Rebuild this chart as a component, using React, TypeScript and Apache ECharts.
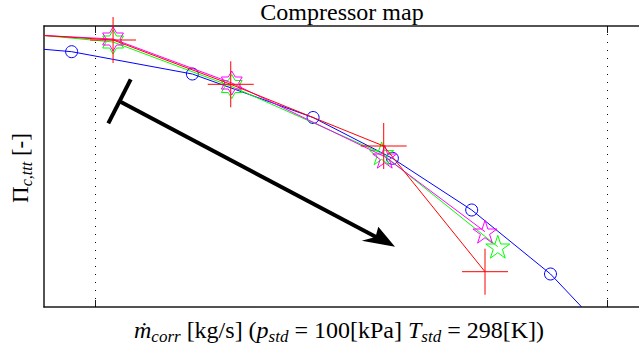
import React, { useEffect, useRef } from "react";
import * as echarts from "echarts";

// Corrected mass flow [kg/s] and total-to-total pressure ratio [-] per series
const refFlow = [0.09, 0.0954, 0.119, 0.1426, 0.1581, 0.1736, 0.189, 0.1951];
const refRatio = [1.5154, 1.5106, 1.466, 1.379, 1.2974, 1.194, 1.066, 1.0];

const measFlow = [0.09, 0.1035, 0.1265, 0.1564, 0.1762];
const measRatio = [1.543, 1.534, 1.4454, 1.322, 1.0706];

const simAFlow = [0.09, 0.1035, 0.1267, 0.1566, 0.1762];
const simARatio = [1.543, 1.536, 1.448, 1.3006, 1.1506];

const simBFlow = [0.09, 0.1035, 0.1267, 0.156, 0.1787];
const simBRatio = [1.543, 1.53, 1.441, 1.3074, 1.1206];

const flowTicks = [0.1, 0.2];
const flowMin = 0.09;
const flowMax = 0.2063;
const ratioMin = 1.0;
const ratioMax = 1.562;

const PLUS = "path://M0,-1L0,1M-1,0L1,0";
const PENTA =
  "path://M0,-1L0.2245,-0.309L0.9511,-0.309L0.3633,0.118L0.5878,0.809L0,0.382L-0.5878,0.809L-0.3633,0.118L-0.9511,-0.309L-0.2245,-0.309Z";
const HEXA =
  "path://M0,-1L0.2887,-0.5L0.866,-0.5L0.577,0L0.866,0.5L0.2887,0.5L0,1L-0.2887,0.5L-0.866,0.5L-0.577,0L-0.866,-0.5L-0.2887,-0.5Z";

const SERIF = "'Liberation Serif', 'DejaVu Serif', serif";

function pts(xs: number[], ys: number[], symbolAt: (i: number) => string) {
  return xs.map((x, i) => ({ value: [x, ys[i]], symbol: symbolAt(i) }));
}

const starAt = (i: number) => (i === 0 ? "none" : i <= 2 ? HEXA : PENTA);

export default function App() {
  const ref = useRef<HTMLDivElement>(null);

  useEffect(() => {
    document.body.style.margin = "0";
    const chart = echarts.init(ref.current!, undefined, { renderer: "svg" });

    const axisLine = { show: true, lineStyle: { color: "#1a1a1a", width: 1.5 } };
    const xAxisBase = {
      type: "value" as const,
      min: flowMin,
      max: flowMax,
      axisLine,
      axisLabel: { show: false },
      splitLine: { show: false },
      axisTick: {
        show: true,
        inside: true,
        length: 7,
        customValues: flowTicks,
        lineStyle: { color: "#1a1a1a", width: 1 },
      },
    };

    const main = { fontFamily: SERIF, fontSize: 24, color: "#000" };
    const ital = { ...main, fontStyle: "italic" };
    const sub = { fontFamily: SERIF, fontSize: 17, fontStyle: "italic", color: "#000", padding: [13, 0, 0, 0] };

    chart.setOption({
      animation: false,
      backgroundColor: "#fff",
      grid: { left: 44, top: 26, bottom: 43, right: 0 },
      xAxis: [
        { ...xAxisBase, position: "bottom" },
        { ...xAxisBase, position: "top" },
      ],
      yAxis: {
        type: "value",
        min: ratioMin,
        max: ratioMax,
        axisLine,
        axisTick: { show: false },
        axisLabel: { show: false },
        splitLine: { show: false },
      },
      series: [
        {
          type: "line",
          data: pts(refFlow, refRatio, (i) => (i === 0 || i === refFlow.length - 1 ? "none" : "circle")),
          symbolSize: 12,
          lineStyle: { color: "#0000ff", width: 1 },
          itemStyle: { color: "none", borderColor: "#0000ff", borderWidth: 1 },
          markLine: {
            silent: true,
            symbol: ["none", "none"],
            label: { show: false },
            lineStyle: { color: "#000", width: 1, type: [1, 7] },
            data: flowTicks.map((v) => ({ xAxis: v })),
          },
          z: 2,
        },
        {
          type: "line",
          data: pts(simBFlow, simBRatio, starAt),
          symbolSize: 24,
          symbolKeepAspect: true,
          lineStyle: { color: "#00ff00", width: 1 },
          itemStyle: { color: "none", borderColor: "#00ff00", borderWidth: 1 },
          z: 3,
        },
        {
          type: "line",
          data: pts(simAFlow, simARatio, starAt),
          symbolSize: 24,
          symbolKeepAspect: true,
          lineStyle: { color: "#ff00ff", width: 1 },
          itemStyle: { color: "none", borderColor: "#ff00ff", borderWidth: 1 },
          z: 4,
        },
        {
          type: "line",
          data: pts(measFlow, measRatio, (i) => (i === 0 ? "none" : PLUS)),
          symbolSize: 46,
          lineStyle: { color: "#ff0000", width: 1 },
          itemStyle: { color: "none", borderColor: "#ff0000", borderWidth: 1 },
          z: 5,
        },
      ],
      graphic: [
        {
          type: "text",
          x: 342,
          y: 12,
          style: {
            text: "Compressor map",
            font: `24px ${SERIF}`,
            fill: "#000",
            align: "center",
            verticalAlign: "middle",
          },
        },
        {
          type: "text",
          x: 339,
          y: 330,
          style: {
            text: "{i|ṁ}{s|corr}{n| [kg/s] (}{i|p}{s|std}{n| = 100[kPa] }{i|T}{s|std}{n| = 298[K])}",
            align: "center",
            verticalAlign: "middle",
            rich: { i: ital, n: main, s: sub },
          },
        },
        {
          type: "text",
          x: 20,
          y: 168,
          rotation: Math.PI / 2,
          style: {
            text: "{n|Π}{s|c,ttt}{n| [-]}",
            align: "center",
            verticalAlign: "middle",
            rich: { n: { ...main, fontSize: 23 }, s: { ...sub, fontSize: 16 } },
          },
        },
        // direction arrow
        {
          type: "line",
          shape: { x1: 130.7, y1: 79.3, x2: 108.3, y2: 123.3 },
          style: { stroke: "#000", lineWidth: 4 },
          z: 10,
        },
        {
          type: "line",
          shape: { x1: 120, y1: 101.5, x2: 377, y2: 237.5 },
          style: { stroke: "#000", lineWidth: 4 },
          z: 10,
        },
        {
          type: "polygon",
          shape: {
            points: [
              [395, 246.7],
              [378.3, 226.7],
              [375.5, 237],
              [361.7, 240.7],
            ],
          },
          style: { fill: "#000" },
          z: 10,
        },
      ],
    });

    return () => chart.dispose();
  }, []);

  return <div ref={ref} style={{ width: 639, height: 350 }} />;
}
